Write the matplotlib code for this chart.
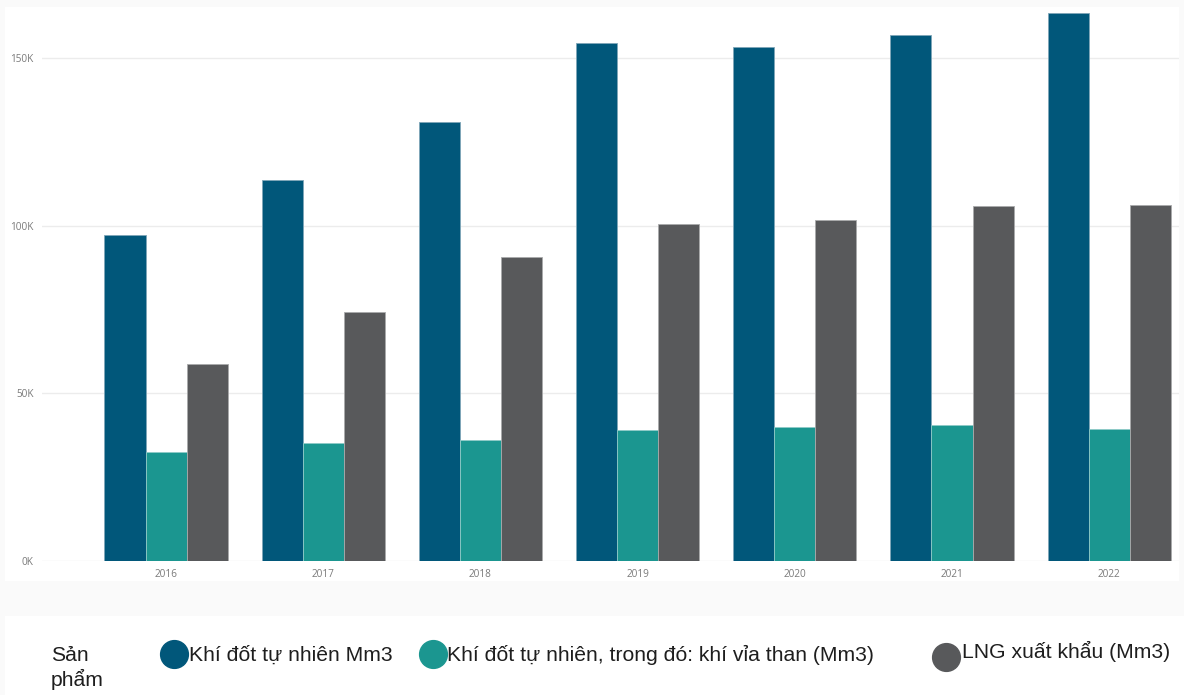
import matplotlib
matplotlib.use("Agg")
import matplotlib.pyplot as plt
from matplotlib.patches import Rectangle
from matplotlib.lines import Line2D
from matplotlib.ticker import FuncFormatter
import numpy as np

# Data (million m3)
years = ["2016", "2017", "2018", "2019", "2020", "2021", "2022"]
natural_gas = [97300, 113700, 131000, 154500, 153300, 156800, 163400]
coal_bed_gas = [32500, 35200, 36100, 39200, 39900, 40700, 39400]
lng_export = [58800, 74300, 90700, 100500, 101800, 106000, 106200]

series_names = [
    "Khí đốt tự nhiên Mm3",
    "Khí đốt tự nhiên, trong đó: khí vỉa than (Mm3)",
    "LNG xuất khẩu (Mm3)",
]
colors = ["#01577A", "#1B9690", "#58595B"]
edge_colors = ["#7fa6b8", "#8fcbc7", "#a9aaab"]
legend_title = "Sản\nphẩm"
yticks = [0, 50000, 100000, 150000]

W, H = 1184, 695
fig = plt.figure(figsize=(W / 100, H / 100), dpi=100)
fig.patch.set_facecolor("#fafafa")

# white card behind the chart and the legend strip
fig.add_artist(Rectangle((5 / W, 1 - 581 / H), (1179 - 5) / W, (581 - 7) / H,
                         transform=fig.transFigure, facecolor="white",
                         edgecolor="none", zorder=0))
fig.add_artist(Rectangle((5 / W, 0), (W - 5) / W, (H - 616) / H,
                         transform=fig.transFigure, facecolor="white",
                         edgecolor="none", zorder=0))

ax_left, ax_right, ax_top, ax_bottom = 42, 1179, 7, 561
ax = fig.add_axes([ax_left / W, 1 - ax_bottom / H,
                   (ax_right - ax_left) / W, (ax_bottom - ax_top) / H])
ax.set_facecolor("white")
ax.patch.set_alpha(0)

x = np.arange(len(years))
bw = 0.261
data = [natural_gas, coal_bed_gas, lng_export]
for i, vals in enumerate(data):
    ax.bar(x + (i - 1) * bw, vals, width=bw, color=colors[i],
           edgecolor=edge_colors[i], linewidth=0.6, zorder=3)

ax.set_xlim(-0.789, 6.444)
ax.set_ylim(0, 165300)
ax.set_yticks(yticks)
ax.yaxis.set_major_formatter(FuncFormatter(lambda v, p: f"{int(v / 1000)}K"))
ax.set_xticks(x)
ax.set_xticklabels(years)
ax.grid(axis="y", color="#ececec", linewidth=1, zorder=0)
ax.set_axisbelow(True)
for s in ax.spines.values():
    s.set_visible(False)
ax.tick_params(axis="both", length=0, labelsize=7.2, labelcolor="#7a7a7a")
ax.tick_params(axis="y", pad=6)
ax.tick_params(axis="x", pad=6)
for lab in ax.get_xticklabels() + ax.get_yticklabels():
    lab.set_family("Open Sans")

# legend row
lf = ["Liberation Sans", "DejaVu Sans"]
fs = 15.2
fig.text(51 / W, 1 - 668 / H, legend_title, family=lf, fontsize=fs,
         color="#1e1e1e", va="center", ha="left", linespacing=1.2)
legend_items = [(174, 654, 189, 655), (433, 654, 447, 655), (946, 657, 962, 651)]
for (cx, cy, tx, ty), name, col in zip(legend_items, series_names, colors):
    fig.add_artist(Line2D([cx / W], [1 - cy / H], marker="o", markersize=20,
                          color=col, linestyle="none",
                          transform=fig.transFigure))
    fig.text(tx / W, 1 - ty / H, name, family=lf, fontsize=fs,
             color="#1e1e1e", va="center", ha="left")

fig.savefig("out.png", dpi=100, facecolor=fig.get_facecolor())
